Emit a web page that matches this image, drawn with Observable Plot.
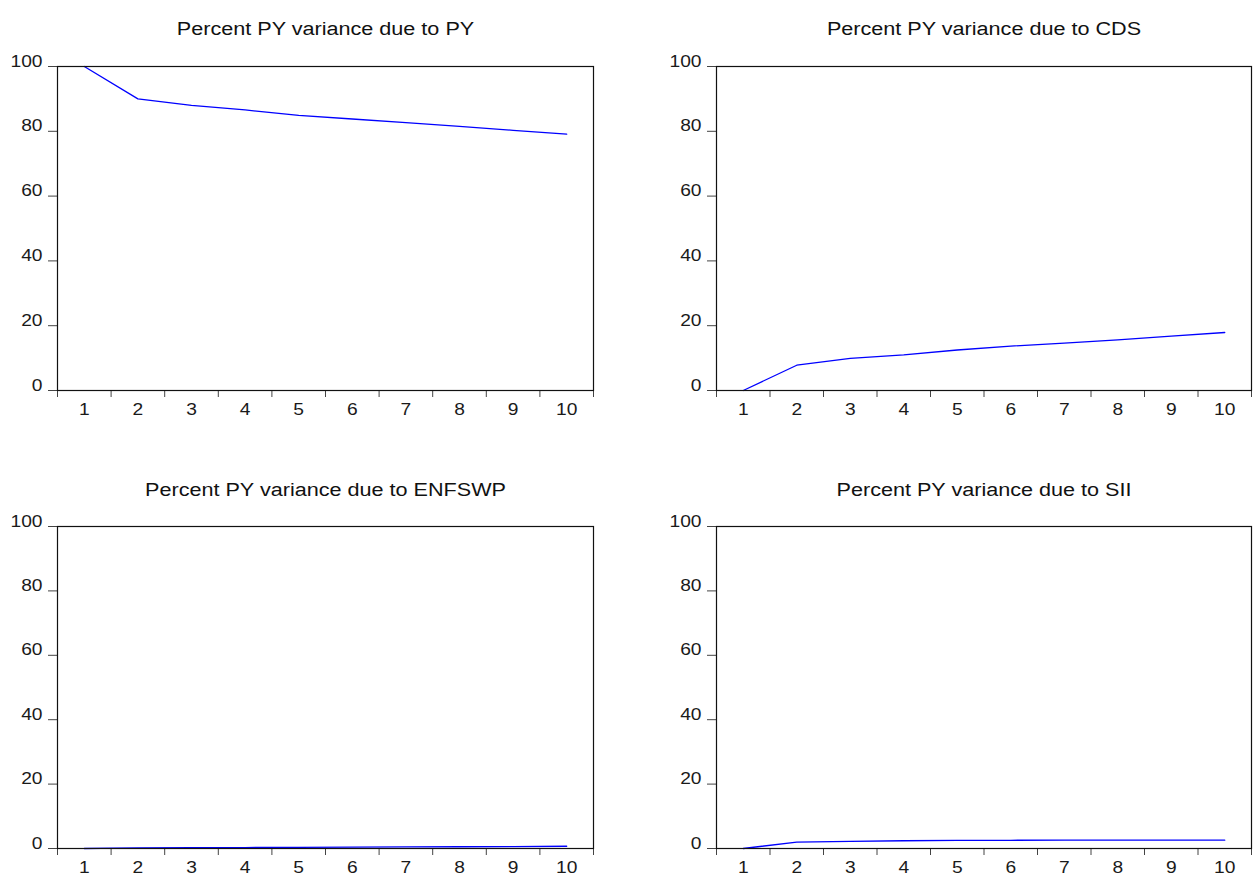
<!DOCTYPE html>
<html>
<head>
<meta charset="utf-8">
<script src="https://cdn.jsdelivr.net/npm/d3@7"></script>
<script src="https://cdn.jsdelivr.net/npm/@observablehq/plot@0.6"></script>
<style>
  html, body { margin: 0; padding: 0; background: #fff; }
  #root { position: relative; width: 1257px; height: 881px; background: #fff; overflow: hidden; }
  .panel { position: absolute; }
</style>
</head>
<body>
<div id="root"></div>
<script>
// ---- data ----
const periods = [1, 2, 3, 4, 5, 6, 7, 8, 9, 10];
const pyShare = [100, 90.0, 88.0, 86.6, 84.9, 83.8, 82.7, 81.5, 80.3, 79.1];
const cdsShare = [0, 7.8, 9.9, 11.0, 12.5, 13.7, 14.6, 15.6, 16.8, 17.9];
const enfswpShare = [0, 0.2, 0.25, 0.3, 0.35, 0.4, 0.5, 0.55, 0.6, 0.7];
const siiShare = [0, 2.0, 2.2, 2.4, 2.5, 2.55, 2.6, 2.6, 2.6, 2.6];
const panelTitles = [
  "Percent PY variance due to PY",
  "Percent PY variance due to CDS",
  "Percent PY variance due to ENFSWP",
  "Percent PY variance due to SII"
];
const yTicks = [0, 20, 40, 60, 80, 100];
const xBounds = [0.5, 1.5, 2.5, 3.5, 4.5, 5.5, 6.5, 7.5, 8.5, 9.5, 10.5];

const seriesList = [pyShare, cdsShare, enfswpShare, siiShare];

// ---- layout ----
const layout = [
  {left: 0,   top: 0,   width: 620, height: 420, mr: 27, mb: 30, titleDy: -44},
  {left: 659, top: 0,   width: 598, height: 420, mr: 6,  mb: 30, titleDy: -44},
  {left: 0,   top: 460, width: 620, height: 418, mr: 27, mb: 30, titleDy: -43},
  {left: 659, top: 460, width: 598, height: 418, mr: 6,  mb: 30, titleDy: -43}
];

const root = document.getElementById("root");
const font = "'Liberation Sans', Arial, Helvetica, sans-serif";

function stretchText(svg, k) {
  svg.querySelectorAll("text").forEach(t => {
    const w = t.getComputedTextLength();
    if (w > 0) {
      t.setAttribute("textLength", (w * k).toFixed(2));
      t.setAttribute("lengthAdjust", "spacingAndGlyphs");
    }
  });
}

seriesList.forEach((vals, i) => {
  const L = layout[i];
  const data = periods.map((p, j) => ({period: p, value: vals[j]}));
  const svg = Plot.plot({
    width: L.width,
    height: L.height,
    marginLeft: 57,
    marginRight: L.mr,
    marginTop: 66,
    marginBottom: L.mb,
    style: {fontFamily: font, fontSize: "16px", color: "#1a1a1a", background: "#fff", overflow: "visible"},
    x: {domain: [0.5, 10.5], axis: null},
    y: {domain: [0, 100], axis: null},
    marks: [
      Plot.axisY({ticks: yTicks, tickSize: 9, tickPadding: 0, label: null, stroke: "#444", tickFormat: () => ""}),
      Plot.axisY({ticks: yTicks, tickSize: 0, tickPadding: 15, dy: -5, label: null, tickFormat: d => String(d)}),
      Plot.axisX({ticks: periods, tickSize: 0, tickPadding: 13, label: null, tickFormat: d => String(d)}),
      Plot.axisX({ticks: xBounds, tickSize: 7, tickPadding: 0, label: null, stroke: "#444", tickFormat: () => ""}),
      Plot.line(data, {x: "period", y: "value", stroke: "#0000ff", strokeWidth: 1.3}),
      Plot.frame({stroke: "#111", strokeWidth: 1.2}),
      Plot.text([panelTitles[i]], {frameAnchor: "top", dy: L.titleDy, fontSize: 18, fill: "#111"})
    ]
  });
  const div = document.createElement("div");
  div.className = "panel";
  div.style.left = L.left + "px";
  div.style.top = L.top + "px";
  div.appendChild(svg);
  root.appendChild(div);
  stretchText(svg, 1.2);
});
</script>
</body>
</html>
